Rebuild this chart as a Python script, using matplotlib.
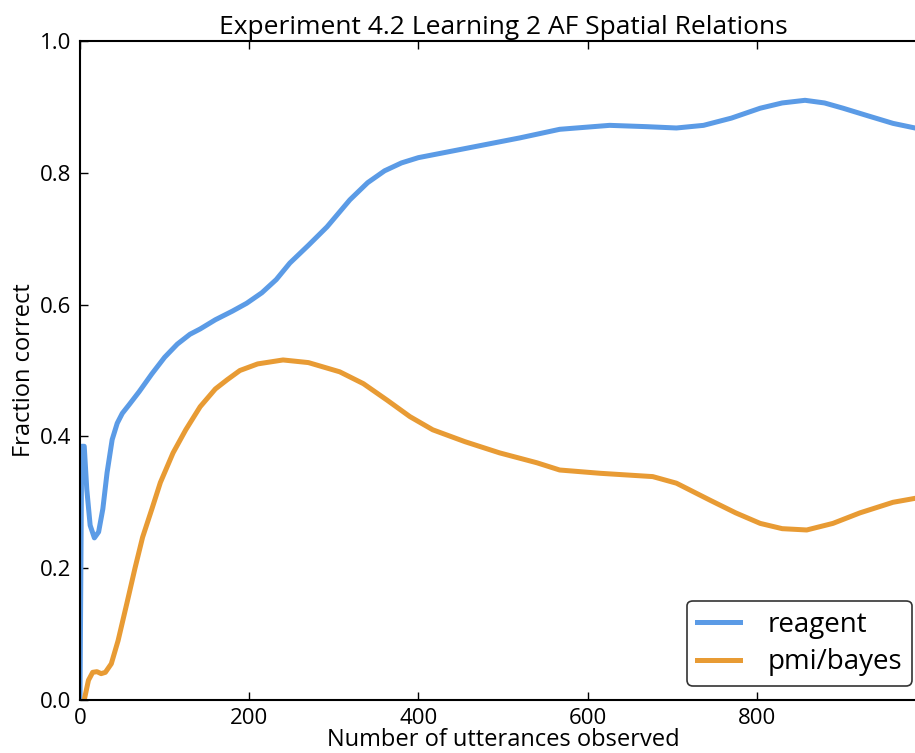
import matplotlib
matplotlib.use("Agg")
import matplotlib.pyplot as plt

# ── data ─────────────────────────────────────────────────────────────────────
reagent_x = [0, 2, 5, 8, 12, 17, 22, 27, 32, 38, 44, 50, 58, 70, 85, 100,
             115, 130, 142, 160, 180, 197, 215, 232, 248, 270, 292, 319, 340,
             360, 380, 400, 440, 480, 520, 567, 626, 670, 705, 737, 770, 804,
             830, 857, 880, 902, 930, 961, 987]
reagent_y = [0.0, 0.385, 0.385, 0.32, 0.265, 0.246, 0.255, 0.29, 0.345, 0.395,
             0.42, 0.435, 0.448, 0.468, 0.495, 0.52, 0.54, 0.555, 0.563, 0.577,
             0.59, 0.602, 0.618, 0.638, 0.663, 0.69, 0.718, 0.759, 0.785,
             0.803, 0.815, 0.823, 0.833, 0.843, 0.853, 0.866, 0.872, 0.870,
             0.868, 0.872, 0.883, 0.898, 0.906, 0.910, 0.906, 0.898, 0.887,
             0.875, 0.868]

pmi_x = [5, 10, 15, 20, 25, 30, 37, 45, 56, 65, 74, 85, 95, 110, 125, 142,
         160, 174, 189, 210, 240, 270, 307, 335, 363, 390, 417, 455, 496, 540,
         567, 615, 677, 705, 745, 775, 804, 830, 859, 890, 922, 961, 987]
pmi_y = [0.0, 0.03, 0.042, 0.043, 0.04, 0.042, 0.055, 0.09, 0.15, 0.2, 0.247,
         0.29, 0.33, 0.375, 0.41, 0.445, 0.472, 0.486, 0.50, 0.51, 0.516,
         0.512, 0.498, 0.48, 0.455, 0.43, 0.41, 0.392, 0.375, 0.36, 0.349,
         0.344, 0.339, 0.329, 0.303, 0.284, 0.268, 0.26, 0.258, 0.268, 0.284,
         0.30, 0.306]

x_ticks = [0, 200, 400, 600, 800]
y_ticks = [0.0, 0.2, 0.4, 0.6, 0.8, 1.0]

plt.rcParams["font.family"] = ["Open Sans", "DejaVu Sans"]

W, H = 915, 753
fig = plt.figure(figsize=(W / 100, H / 100), dpi=100)
ax = fig.add_axes([80 / W, (H - 700) / H, (926 - 80) / W, (700 - 41) / H])

ax.plot(reagent_x, reagent_y, color="#5b9be6", lw=3.6, label="reagent",
        solid_joinstyle="round")
ax.plot(pmi_x, pmi_y, color="#e89b34", lw=3.6, label="pmi/bayes",
        solid_joinstyle="round")

ax.set_xlim(0, 1000)
ax.set_ylim(0, 1.0)
ax.set_xticks(x_ticks)
ax.set_yticks(y_ticks)
ax.set_yticklabels([f"{v:.1f}" for v in y_ticks])
ax.tick_params(direction="in", length=6, width=1, labelsize=16,
               top=True, right=True, pad=6)
for s in ax.spines.values():
    s.set_linewidth(1.5)

ax.set_title("Experiment 4.2 Learning 2 AF Spatial Relations", fontsize=19,
             pad=5)
ax.set_xlabel("Number of utterances observed", fontsize=17, labelpad=-1)
ax.set_ylabel("Fraction correct", fontsize=17, labelpad=3)

leg = ax.legend(loc="lower right", bbox_to_anchor=(912 / W, (H - 686) / H),
                bbox_transform=fig.transFigure, borderaxespad=0,
                fontsize=20, handlelength=1.55, handletextpad=1.0,
                labelspacing=0.35, borderpad=0.35,
                frameon=True, fancybox=True, edgecolor="black")
leg.get_frame().set_linewidth(1.2)

fig.savefig("out.png", dpi=100)
